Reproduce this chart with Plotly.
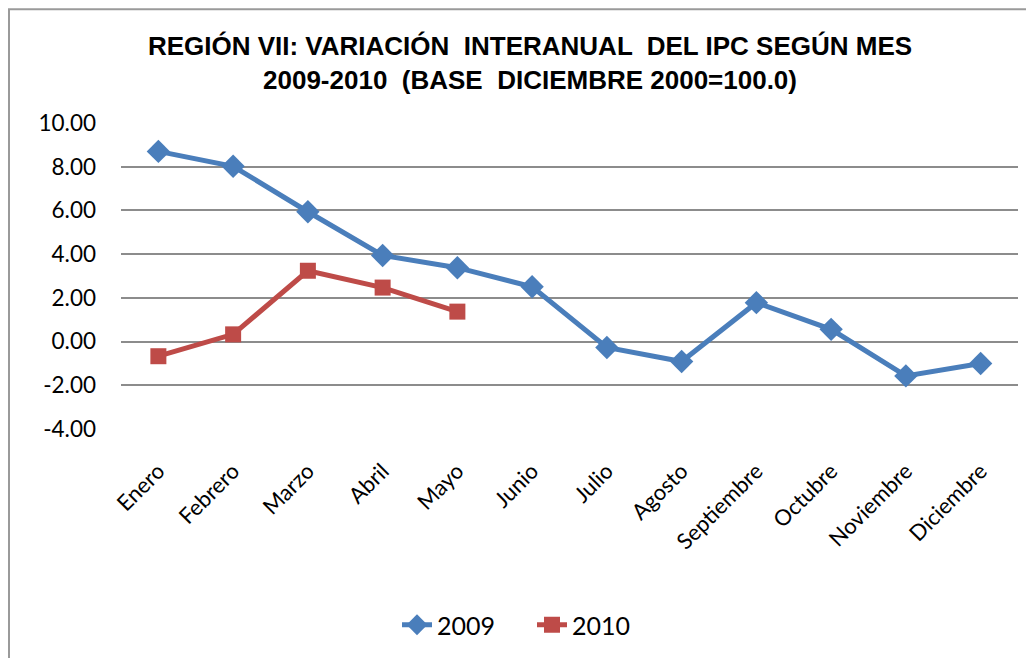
import plotly.graph_objects as go

meses = ["Enero", "Febrero", "Marzo", "Abril", "Mayo", "Junio", "Julio",
         "Agosto", "Septiembre", "Octubre", "Noviembre", "Diciembre"]
v2009 = [8.70, 8.02, 5.94, 3.94, 3.38, 2.51, -0.27, -0.91, 1.78, 0.56, -1.57, -1.00]
v2010 = [-0.67, 0.33, 3.24, 2.47, 1.37]
yticks = [10, 8, 6, 4, 2, 0, -2, -4]
ytext = ["10.00", "8.00", "6.00", "4.00", "2.00", "0.00", "-2.00", "-4.00"]

OFF = 8  # browser body margin
W, H = 1034 - OFF, 658 - OFF
L, R, T, B = 121 - OFF, 16, 123 - OFF, 658 - 430
pw = W - L - R
ph = H - T - B

fig = go.Figure()
fig.add_trace(go.Scatter(
    x=meses, y=v2009, name="2009", mode="lines+markers",
    line=dict(color="#4a7ebb", width=5),
    marker=dict(symbol="diamond", size=18, color="#4a7ebb"),
))
fig.add_trace(go.Scatter(
    x=meses[:len(v2010)], y=v2010, name="2010", mode="lines+markers",
    line=dict(color="#be4b48", width=5),
    marker=dict(symbol="square", size=16, color="#be4b48"),
))

def px_x(x):
    return (x - OFF - L) / pw

def px_y(y):
    return (H - B - (y - OFF)) / ph

fig.add_shape(type="rect", xref="paper", yref="paper",
              x0=px_x(9), x1=px_x(1045), y0=px_y(675), y1=px_y(9),
              line=dict(color="#9a9a9a", width=2), fillcolor="rgba(0,0,0,0)")

fig.update_layout(
    width=W, height=H,
    margin=dict(l=L, r=R, t=T, b=B),
    paper_bgcolor="white", plot_bgcolor="white",
    title=dict(
        text="REGIÓN VII: VARIACIÓN  INTERANUAL  DEL IPC SEGÚN MES<br>2009-2010  (BASE  DICIEMBRE 2000=100.0)",
        x=(530 - OFF) / W, xanchor="center", xref="container",
        y=1 - (55 - OFF) / H, yanchor="middle", yref="container",
        font=dict(family="Liberation Sans, Arial", size=26, color="black", weight="bold"),
    ),
    font=dict(family="Lato, Carlito, Calibri, sans-serif", size=21, color="black"),
    xaxis=dict(
        type="category", categoryorder="array", categoryarray=meses,
        range=[-0.5, 11.5], showgrid=False, showline=False, zeroline=False,
        ticks="", tickangle=-45, tickfont=dict(size=22), ticklabelstandoff=24,
    ),
    yaxis=dict(
        range=[-4, 10], tickvals=yticks, ticktext=ytext,
        showgrid=True, gridcolor="#8c8c8c", gridwidth=2,
        zeroline=False, showline=False, ticks="",
        ticklabelstandoff=24, tickfont=dict(size=22.5),
    ),
    legend=dict(
        orientation="h", x=px_x(532), xanchor="center",
        y=px_y(625), yanchor="middle", font=dict(size=25),
        entrywidth=90, entrywidthmode="pixels",
    ),
    showlegend=True,
)

fig.write_html("out.html")
